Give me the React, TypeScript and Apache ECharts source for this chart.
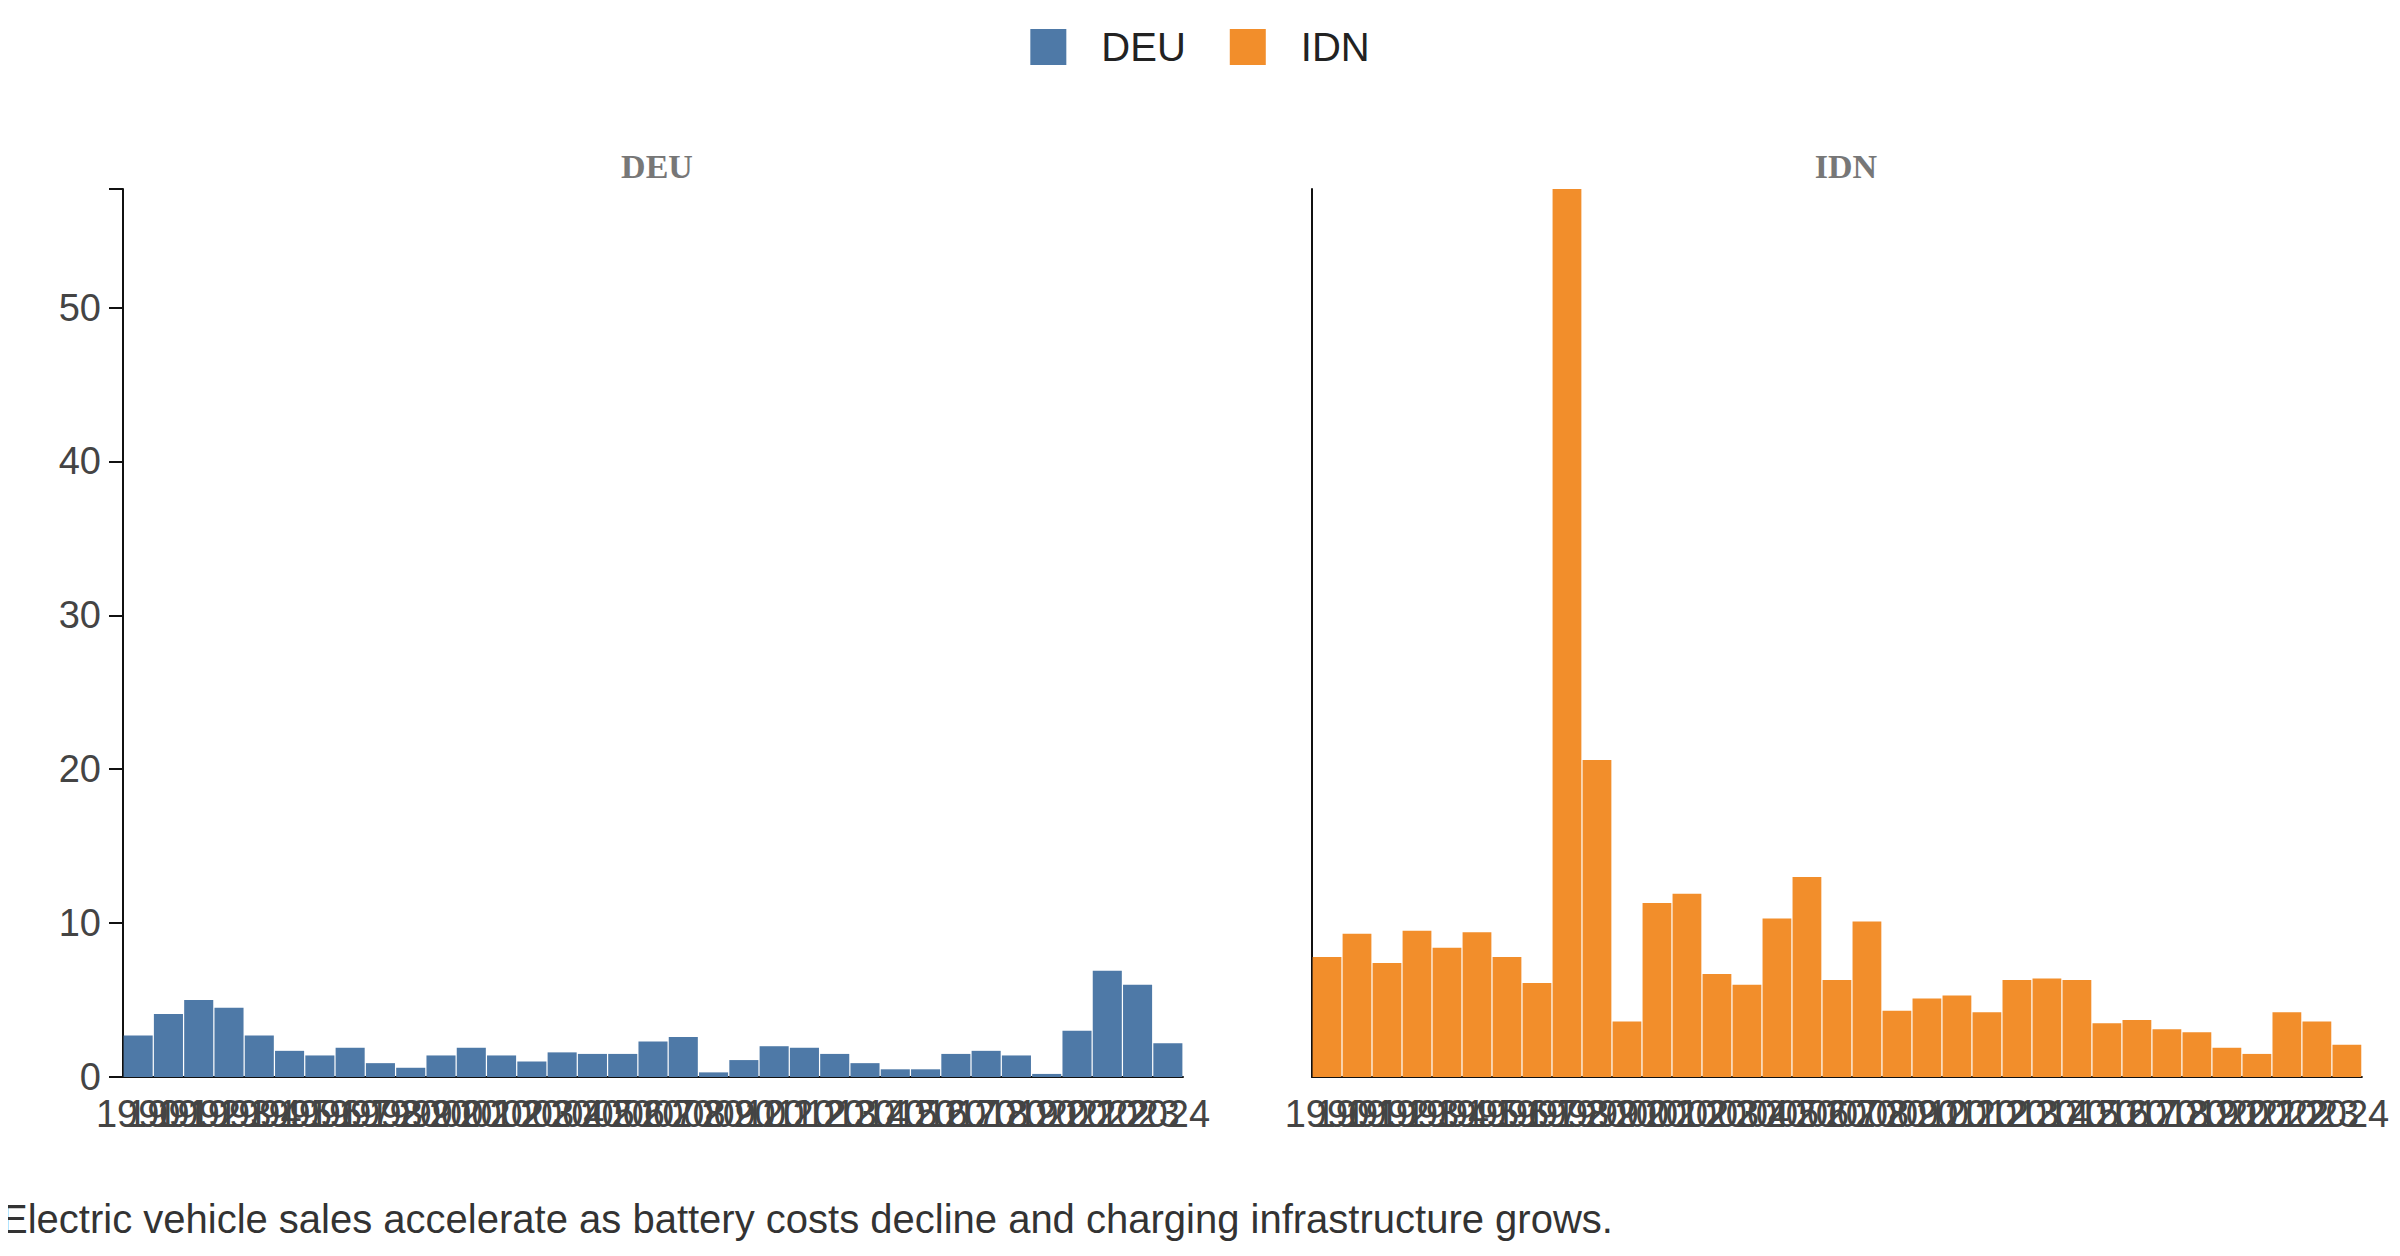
import React, { useEffect, useRef } from 'react';
import * as echarts from 'echarts';

const years = Array.from({ length: 35 }, (_, i) => String(1990 + i));
const deu = [2.7, 4.1, 5.0, 4.5, 2.7, 1.7, 1.4, 1.9, 0.9, 0.6, 1.4, 1.9, 1.4, 1.0, 1.6, 1.5, 1.5, 2.3, 2.6, 0.3, 1.1, 2.0, 1.9, 1.5, 0.9, 0.5, 0.5, 1.5, 1.7, 1.4, 0.2, 3.0, 6.9, 6.0, 2.2];
const idn = [7.8, 9.3, 7.4, 9.5, 8.4, 9.4, 7.8, 6.1, 58, 20.6, 3.6, 11.3, 11.9, 6.7, 6.0, 10.3, 13.0, 6.3, 10.1, 4.3, 5.1, 5.3, 4.2, 6.3, 6.4, 6.3, 3.5, 3.7, 3.1, 2.9, 1.9, 1.5, 4.2, 3.6, 2.1];

export default function App() {
  const ref = useRef<HTMLDivElement>(null);
  useEffect(() => {
    if (!ref.current) return;
    const chart = echarts.init(ref.current, null, { renderer: 'svg' });
    const xAxis = (gridIndex: number) => ({
      type: 'category', gridIndex, data: years,
      axisLine: { lineStyle: { color: '#111', width: 2 } },
      axisTick: { interval: 0, length: 14, lineStyle: { color: '#111', width: 2 } },
      axisLabel: { interval: 0, color: '#444', fontSize: 38, fontFamily: 'Liberation Sans', margin: 18 },
    });
    const yAxis = (gridIndex: number, labels: boolean) => ({
      type: 'value', gridIndex, min: 0, max: 57.7, interval: 10,
      splitLine: { show: false },
      axisLine: { show: true, lineStyle: { color: '#111', width: 2 } },
      axisTick: { show: labels, length: 14, lineStyle: { color: '#111', width: 2 } },
      axisLabel: { show: labels, color: '#444', fontSize: 38, fontFamily: 'Liberation Sans', margin: 22,
        formatter: (v: number) => (v % 10 === 0 ? String(v) : '') },
    });
    chart.setOption({
      animation: false,
      legend: {
        top: 14, left: 'center', itemWidth: 36, itemHeight: 36, itemGap: 44,
        textStyle: { fontSize: 40, color: '#222', fontFamily: 'Liberation Sans', padding: [0, 0, 0, 30] },
        icon: 'rect', data: ['DEU', 'IDN'],
      },
      title: [
        { text: 'DEU', left: 652 - 8, top: 136, textAlign: 'center', textStyle: { fontSize: 34, color: '#777', fontFamily: 'Liberation Serif', fontWeight: 'bold' } },
        { text: 'IDN', left: 1841 - 8, top: 136, textAlign: 'center', textStyle: { fontSize: 34, color: '#777', fontFamily: 'Liberation Serif', fontWeight: 'bold' } },
        { text: 'Electric vehicle sales accelerate as battery costs decline and charging infrastructure grows.', left: -12, top: 1186, textStyle: { fontSize: 40, color: '#333', fontWeight: 'normal', fontFamily: 'Liberation Sans' } },
      ],
      grid: [
        { left: 115, width: 1060, top: 181, height: 888 },
        { left: 1304, width: 1060, top: 181, height: 888 },
      ],
      xAxis: [xAxis(0), xAxis(1)],
      yAxis: [yAxis(0, true), yAxis(1, false)],
      series: [
        { name: 'DEU', type: 'bar', data: deu, xAxisIndex: 0, yAxisIndex: 0, barCategoryGap: '4%', itemStyle: { color: '#4e79a7' } },
        { name: 'IDN', type: 'bar', data: idn, xAxisIndex: 1, yAxisIndex: 1, barCategoryGap: '4%', itemStyle: { color: '#f28e2b' } },
      ],
    });
    return () => chart.dispose();
  }, []);
  return <div ref={ref} style={{ width: 2384, height: 1240 }} />;
}
